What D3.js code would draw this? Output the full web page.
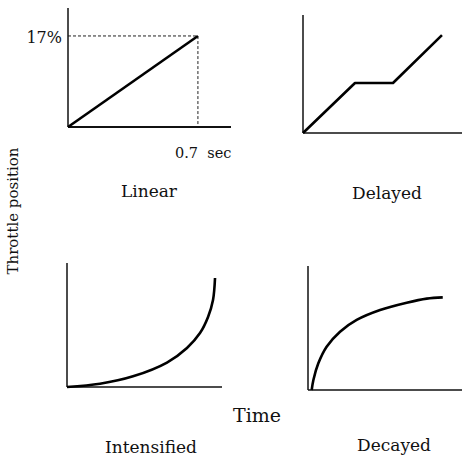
<!DOCTYPE html>
<html>
<head>
<meta charset="utf-8">
<script src="https://cdn.jsdelivr.net/npm/d3@7"></script>
<style>
body { margin: 0; background: #fff; }
text { font-family: "DejaVu Serif", "Liberation Serif", serif; fill: #111; }
</style>
</head>
<body>
<svg id="chart" width="462" height="456"></svg>
<script>
var linearPts = [[0, 0], [0.797, 0.765]];
var delayedPts = [[0, 0], [0.327, 0.424], [0.566, 0.424], [0.874, 0.83]];
var intensifiedPts = [[0, 0], [0.213, 0.026], [0.426, 0.086], [0.645, 0.197], [0.774, 0.315],
    [0.858, 0.435], [0.91, 0.565], [0.942, 0.702], [0.955, 0.879]];
var decayedPts = [[0.024, 0], [0.035, 0.081], [0.067, 0.215], [0.121, 0.349], [0.208, 0.47],
    [0.316, 0.565], [0.468, 0.645], [0.641, 0.704], [0.771, 0.737], [0.875, 0.747]];

var panelNames = ["Linear", "Delayed", "Intensified", "Decayed"];
var markLabels = {value: "17%", time: "0.7\u00a0\u00a0sec"};

var panels = [
    {name: panelNames[0], pts: linearPts, x0: 68, x1: 231, y0: 127, y1: 8, lx: 149, ly: 197},
    {name: panelNames[1], pts: delayedPts, x0: 303, x1: 462, y0: 133, y1: 15, lx: 387, ly: 199},
    {name: panelNames[2], pts: intensifiedPts, x0: 67, x1: 222, y0: 387, y1: 263, lx: 151, ly: 453},
    {name: panelNames[3], pts: decayedPts, x0: 308, x1: 462, y0: 390, y1: 266, lx: 394, ly: 451}
];

var svg = d3.select("#chart");

panels.forEach(function (p, i) {
    var x = d3.scaleLinear().domain([0, 1]).range([p.x0, p.x1]);
    var y = d3.scaleLinear().domain([0, 1]).range([p.y0, p.y1]);
    var g = svg.append("g");

    // dashed guides on the linear panel
    if (i === 0) {
        var end = p.pts[1];
        g.append("path")
            .attr("d", "M" + x(0) + "," + y(end[1]) + "H" + x(end[0]) + "V" + y(0))
            .attr("fill", "none")
            .attr("stroke", "#222")
            .attr("stroke-width", 1)
            .attr("stroke-dasharray", "3,2");
        g.append("text")
            .attr("x", x(0) - 6)
            .attr("y", y(end[1]) + 7)
            .attr("text-anchor", "end")
            .attr("font-size", 16)
            .text(markLabels.value);
        g.append("text")
            .attr("x", 175)
            .attr("y", 158)
            .attr("font-size", 14.5)
            .text(markLabels.time);
    }

    // axes
    g.append("line")
        .attr("x1", x(0)).attr("y1", y(0))
        .attr("x2", x(0)).attr("y2", y(1))
        .attr("stroke", "#111").attr("stroke-width", 1.5);
    g.append("line")
        .attr("x1", x(0)).attr("y1", y(0))
        .attr("x2", x(1)).attr("y2", y(0))
        .attr("stroke", "#111").attr("stroke-width", i === 0 ? 2 : 1.5);

    var line = d3.line()
        .x(function (d) { return x(d[0]); })
        .y(function (d) { return y(d[1]); })
        .curve(p.pts.length > 4 ? d3.curveCatmullRom : d3.curveLinear);

    g.append("path")
        .datum(p.pts)
        .attr("d", line)
        .attr("fill", "none")
        .attr("stroke", "#000")
        .attr("stroke-width", 2.6)
        .attr("stroke-linejoin", "round");

    g.append("text")
        .attr("x", p.lx)
        .attr("y", p.ly)
        .attr("text-anchor", "middle")
        .attr("font-size", 17)
        .text(p.name);
});

svg.append("text")
    .attr("transform", "translate(18,211) rotate(-90)")
    .attr("text-anchor", "middle")
    .attr("font-size", 15)
    .text("Throttle position");

svg.append("text")
    .attr("x", 257)
    .attr("y", 422)
    .attr("text-anchor", "middle")
    .attr("font-size", 19)
    .text("Time");
</script>
</body>
</html>
